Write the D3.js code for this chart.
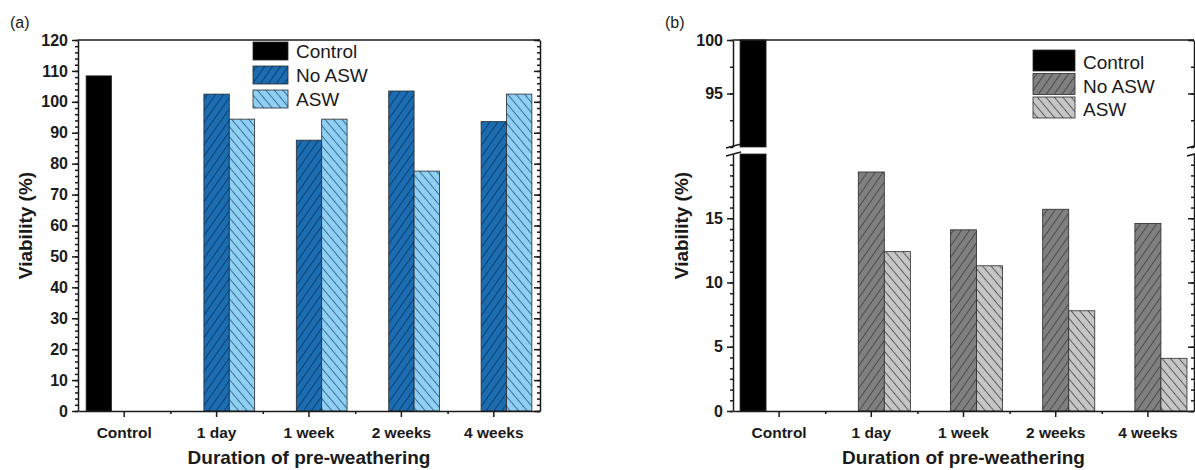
<!DOCTYPE html>
<html>
<head>
<meta charset="utf-8">
<script src="https://cdn.jsdelivr.net/npm/d3@7/dist/d3.min.js"></script>
<style>
body { margin: 0; background: #fff; }
text { font-family: Arial, "Liberation Sans", sans-serif; }
</style>
</head>
<body>
<svg id="chart" width="1195" height="470"></svg>
<script>
// categories and series
const categories = ["Control", "1 day", "1 week", "2 weeks", "4 weeks"]
const seriesNames = ["Control", "No ASW", "ASW"]

// panel (a) values, viability %
const controlA = 108.4
const noAswA = [null, 102.5, 87.6, 103.5, 93.6]
const aswA = [null, 94.4, 94.4, 77.6, 102.5]

// panel (b) values, viability %
const controlB = 100
const noAswB = [null, 18.6, 14.1, 15.7, 14.6]
const aswB = [null, 12.4, 11.3, 7.8, 4.1]

// tick labels
const yTicksA = [0, 10, 20, 30, 40, 50, 60, 70, 80, 90, 100, 110, 120]
const yTicksBLow = [0, 5, 10, 15]
const yTicksBHigh = [95, 100]

const xTitle = "Duration of pre-weathering"
const yTitle = "Viability (%)"

const svg = d3.select("#chart")
const defs = svg.append("defs")

function hatch(id, fill, stroke, angle, gap) {
    const p = defs.append("pattern")
        .attr("id", id)
        .attr("patternUnits", "userSpaceOnUse")
        .attr("width", 10)
        .attr("height", gap)
        .attr("patternTransform", "rotate(" + angle + ")")
    p.append("rect").attr("width", 10).attr("height", gap).attr("fill", fill)
    p.append("line")
        .attr("x1", 0).attr("x2", 10)
        .attr("y1", gap / 2).attr("y2", gap / 2)
        .attr("stroke", stroke).attr("stroke-width", 1)
}

hatch("noAswBlue", "#1b6cb0", "#0b3f70", -55, 6.5)
hatch("aswBlue", "#8fd0f4", "#3b6e98", 50, 6.5)
hatch("noAswGray", "#808080", "#4a4a4a", -55, 6.5)
hatch("aswGray", "#c6c6c6", "#5c5c5c", 50, 6.5)

function bars(control, noAsw, asw) {
    let rows = [{ cat: categories[0], key: "Control", value: control }]
    categories.forEach(function (c, i) {
        if (noAsw[i] != null) rows.push({ cat: c, key: "No ASW", value: noAsw[i] })
        if (asw[i] != null) rows.push({ cat: c, key: "ASW", value: asw[i] })
    })
    return rows
}

// split each major step into n parts for minor ticks
function subdivide(ticks, n) {
    let out = []
    for (let i = 0; i < ticks.length - 1; i++) {
        for (let k = 0; k < n; k++) out.push(ticks[i] + (ticks[i + 1] - ticks[i]) * k / n)
    }
    out.push(ticks[ticks.length - 1])
    return out
}

function drawPanel(opt) {
    const g = svg.append("g")
    const bottom = opt.bottom, top = opt.top

    const x0 = d3.scaleBand().domain(categories).range([opt.left, opt.right])
    const x1 = d3.scaleBand().domain(seriesNames).range([0, x0.bandwidth()]).paddingOuter(opt.barPad)

    // bars, one rect per axis segment
    opt.segments.forEach(function (seg) {
        const y = d3.scaleLinear().domain(seg.domain).range(seg.range)
        g.append("g").selectAll("rect")
            .data(opt.data.filter(function (d) { return d.value > seg.domain[0] }))
            .enter()
            .append("rect")
            .attr("x", function (d) { return x0(d.cat) + x1(d.key) })
            .attr("width", x1.bandwidth())
            .attr("y", function (d) { return y(Math.min(d.value, seg.domain[1])) })
            .attr("height", function (d) { return y(seg.domain[0]) - y(Math.min(d.value, seg.domain[1])) })
            .attr("fill", function (d) { return opt.fills[d.key] })
            .attr("stroke", "#2a2a2a")
            .attr("stroke-width", 0.8)

        // left axis, major + minor
        const left = g.append("g").attr("class", "axis").attr("transform", "translate(" + opt.left + ",0)")
        left.call(d3.axisLeft(y).tickValues(seg.minor).tickSize(3).tickSizeOuter(0).tickFormat(""))
        left.append("g").call(d3.axisLeft(y).tickValues(seg.major).tickSize(6).tickSizeOuter(0).tickPadding(4))
            .select(".domain").remove()
        left.selectAll(".tick text").attr("font-size", 16).attr("font-weight", "bold").attr("fill", "#1a1a1a")

        // right axis, ticks pointing inward
        const right = g.append("g").attr("class", "axis").attr("transform", "translate(" + opt.right + ",0)")
        right.call(d3.axisLeft(y).tickValues(seg.minor).tickSize(3).tickSizeOuter(0).tickFormat(""))
        right.append("g").call(d3.axisLeft(y).tickValues(seg.major).tickSize(6).tickSizeOuter(0).tickFormat(""))
            .select(".domain").remove()
    })

    // top frame
    g.append("line")
        .attr("x1", opt.left).attr("x2", opt.right)
        .attr("y1", top).attr("y2", top)
        .attr("stroke", "#1a1a1a").attr("stroke-width", 1.5)

    // bottom axis
    const xa = g.append("g").attr("class", "axis").attr("transform", "translate(0," + bottom + ")")
    xa.call(d3.axisBottom(x0).tickSize(6).tickSizeOuter(0).tickPadding(10))
    xa.selectAll(".tick text").attr("font-size", 15.5).attr("font-weight", "bold").attr("fill", "#1a1a1a")
    const xm = d3.scaleLinear().domain([0, categories.length]).range([opt.left, opt.right])
    xa.append("g").call(d3.axisBottom(xm).tickValues(d3.range(1, categories.length)).tickSize(3).tickFormat(""))
        .select(".domain").remove()

    g.selectAll(".axis path, .axis line").attr("stroke", "#1a1a1a").attr("stroke-width", 1.5)

    // axis break marks
    if (opt.breakAt) {
        [opt.left, opt.right].forEach(function (bx) {
            opt.breakAt.forEach(function (by) {
                g.append("line")
                    .attr("x1", bx - 7).attr("x2", bx + 8)
                    .attr("y1", by + 2).attr("y2", by - 2)
                    .attr("stroke", "#1a1a1a").attr("stroke-width", 1.5)
            })
        })
    }

    // titles
    g.append("text")
        .attr("x", (opt.left + opt.right) / 2).attr("y", 464)
        .attr("text-anchor", "middle")
        .attr("font-size", 19).attr("font-weight", "bold").attr("fill", "#1a1a1a")
        .text(xTitle)
    g.append("text")
        .attr("transform", "translate(" + opt.yTitleX + "," + (top + bottom) / 2 + ") rotate(-90)")
        .attr("text-anchor", "middle")
        .attr("font-size", 19).attr("font-weight", "bold").attr("fill", "#1a1a1a")
        .text(yTitle)
    g.append("text")
        .attr("x", opt.tagX).attr("y", 28)
        .attr("font-size", 16).attr("fill", "#1a1a1a")
        .text(opt.tag)

    // legend
    const lg = g.append("g").attr("transform", "translate(" + opt.legend.x + "," + opt.legend.y + ")")
    const item = lg.selectAll("g").data(seriesNames).enter().append("g")
        .attr("transform", function (d, i) { return "translate(0," + i * opt.legend.step + ")" })
    item.append("rect")
        .attr("width", opt.legend.w).attr("height", opt.legend.h)
        .attr("fill", function (d) { return opt.fills[d] })
        .attr("stroke", "#2a2a2a").attr("stroke-width", 0.8)
    item.append("text")
        .attr("x", opt.legend.w + 8).attr("y", opt.legend.h - 2)
        .attr("font-size", 19).attr("fill", "#1a1a1a")
        .text(function (d) { return d })
}

drawPanel({
    tag: "(a)", tagX: 10,
    left: 78, right: 540, top: 40, bottom: 411,
    barPad: 0.32, yTitleX: 32,
    data: bars(controlA, noAswA, aswA),
    fills: { "Control": "#000", "No ASW": "url(#noAswBlue)", "ASW": "url(#aswBlue)" },
    segments: [
        { domain: [0, 120], range: [411, 40], major: yTicksA, minor: subdivide(yTicksA, 5) }
    ],
    legend: { x: 253, y: 42, w: 35, h: 18, step: 24 }
})

drawPanel({
    tag: "(b)", tagX: 665,
    left: 733, right: 1194, top: 40, bottom: 411,
    barPad: 0.27, yTitleX: 688,
    data: bars(controlB, noAswB, aswB),
    fills: { "Control": "#000", "No ASW": "url(#noAswGray)", "ASW": "url(#aswGray)" },
    segments: [
        { domain: [0, 20], range: [411, 154], major: yTicksBLow, minor: subdivide(yTicksBLow.concat([20]), 6).filter(function (v) { return v < 19.9 }) },
        { domain: [90, 100], range: [147, 40], major: yTicksBHigh, minor: subdivide([90].concat(yTicksBHigh), 2) }
    ],
    breakAt: [146, 154],
    legend: { x: 1033, y: 50, w: 42, h: 21, step: 23.5 }
})
</script>
</body>
</html>
